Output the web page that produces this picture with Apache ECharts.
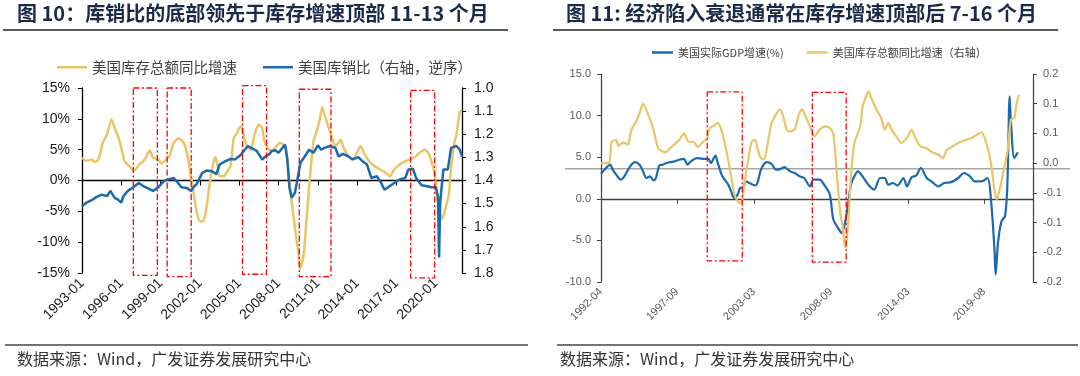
<!DOCTYPE html>
<html>
<head>
<meta charset="utf-8">
<script src="https://cdn.jsdelivr.net/npm/echarts/dist/echarts.min.js"></script>
<style>
html, body { margin: 0; padding: 0; background: #fff; }
#chart { width: 1080px; height: 376px; }
</style>
</head>
<body>
<div id="chart"></div>
<script>
// ---- 图10 数据 ----
const invYoYDates = [
  "1993-01","1993-05","1993-10","1994-01","1994-04","1994-08","1994-12","1995-04","1995-07","1995-10",
  "1996-01","1996-04","1996-09","1997-01","1997-05","1997-09","1997-12","1998-03","1998-06","1998-11",
  "1999-02","1999-06","1999-09","2000-01","2000-05","2000-08","2000-11","2001-02","2001-05","2001-07","2001-10",
  "2002-01","2002-04","2002-07","2002-09","2002-12","2003-03","2003-05","2003-07","2003-11",
  "2004-02","2004-05","2004-08","2004-11","2005-01","2005-03","2005-06","2005-09","2005-12",
  "2006-03","2006-07","2006-10","2006-12","2007-03","2007-07","2007-10","2008-02","2008-05","2008-08","2008-10",
  "2009-01","2009-04","2009-07","2009-09","2009-12","2010-03","2010-06","2010-09","2010-12",
  "2011-03","2011-05","2011-07","2011-10","2012-01","2012-05","2012-08","2012-10","2012-12",
  "2013-03","2013-08","2013-12","2014-04","2014-08","2015-01","2015-05","2015-10","2016-02","2016-07","2016-11",
  "2017-04","2017-09","2018-01","2018-06","2018-10","2019-03","2019-06","2019-09","2019-12",
  "2020-02","2020-05","2020-07","2020-10","2021-01","2021-03","2021-06","2021-08","2021-11","2022-01"
];
const invYoY = [
  3.7, 3.2, 3.4, 3.0, 3.4, 6.1, 7.5, 9.9, 8.5, 7.2,
  5.3, 3.1, 2.2, 1.6, 2.5, 3.1, 3.9, 4.9, 3.7, 3.4,
  2.7, 3.4, 3.9, 6.1, 6.8, 6.6, 5.8, 3.7, 0.4, -1.7, -5.0,
  -6.6, -6.6, -4.4, -1.7, 1.8, 3.8, 2.6, 0.7, 0.7,
  1.5, 2.3, 6.9, 7.7, 8.5, 8.8, 6.6, 5.3, 5.0,
  7.5, 9.1, 8.5, 6.4, 5.3, 4.8, 5.3, 6.1, 5.9, 5.0, 1.5,
  -3.4, -7.7, -11.5, -14.3, -12.0, -5.5, 1.0, 6.4, 8.0,
  10.2, 11.9, 10.7, 9.1, 7.5, 5.6, 6.1, 6.6, 5.6,
  4.5, 3.4, 4.2, 5.6, 4.2, 2.9, 2.3, 1.8, 1.4, 0.7, 1.8,
  2.6, 3.1, 3.4, 3.8, 4.5, 5.0, 4.5, 3.1, 1.0,
  -2.3, -5.5, -6.2, -4.4, -2.3, 2.1, 6.1, 7.5, 11.2, 11.4
];
const isRatioDates = [
  "1993-01","1993-05","1993-10","1994-02","1994-07","1994-12","1995-03","1995-07","1995-10",
  "1996-01","1996-03","1996-07","1996-12","1997-05","1997-09","1998-02","1998-06","1998-11",
  "1999-04","1999-08","2000-01","2000-05","2000-08","2001-01","2001-05","2001-07","2001-10",
  "2002-03","2002-07","2002-12","2003-04","2003-07","2003-12","2004-05","2004-09",
  "2005-02","2005-06","2005-09","2005-12","2006-05","2006-10","2007-01","2007-04","2007-07","2007-10",
  "2008-01","2008-05","2008-07","2008-09","2008-11","2009-01","2009-04","2009-06","2009-09",
  "2010-01","2010-05","2010-09","2011-01","2011-04","2011-07","2011-12","2012-05","2012-08","2012-12",
  "2013-05","2013-09","2014-02","2014-06","2014-10","2015-02","2015-07","2015-11",
  "2016-02","2016-07","2016-11","2017-04","2017-09","2017-12","2018-04","2018-07","2018-12",
  "2019-04","2019-09","2020-01","2020-03","2020-04","2020-05","2020-06","2020-08","2020-12",
  "2021-03","2021-08","2021-11","2022-01"
];
const isRatio = [
  1.512, 1.496, 1.485, 1.472, 1.461, 1.467, 1.445, 1.475, 1.483,
  1.496, 1.467, 1.445, 1.429, 1.411, 1.424, 1.435, 1.445, 1.429,
  1.403, 1.395, 1.389, 1.411, 1.429, 1.432, 1.445, 1.429, 1.416,
  1.368, 1.357, 1.360, 1.373, 1.331, 1.317, 1.307, 1.309,
  1.291, 1.267, 1.251, 1.259, 1.272, 1.309, 1.296, 1.288, 1.272, 1.269,
  1.280, 1.256, 1.245, 1.309, 1.432, 1.475, 1.453, 1.403, 1.323,
  1.296, 1.267, 1.280, 1.248, 1.267, 1.259, 1.251, 1.259, 1.296, 1.285,
  1.296, 1.309, 1.299, 1.317, 1.331, 1.389, 1.381, 1.411,
  1.440, 1.424, 1.411, 1.395, 1.389, 1.352, 1.349, 1.389, 1.421,
  1.424, 1.429, 1.429, 1.470, 1.733, 1.500, 1.445, 1.352, 1.352,
  1.259, 1.251, 1.267, 1.296
];
const leftTicks = ["1993-01","1996-01","1999-01","2002-01","2005-01","2008-01","2011-01","2014-01","2017-01","2020-01"];
const leftBoxStart = ["1996-12","1999-07","2005-04","2009-08","2018-02"];
const leftBoxEnd = ["1998-10","2001-05","2007-02","2012-01","2019-12"];
const leftBoxTop = [15.0, 15.0, 15.4, 14.8, 14.6];
const leftBoxBottom = [-15.4, -15.6, -15.2, -15.6, -15.8];

// ---- 图11 数据 ----
const gdpDates = [
  "1992-04","1992-07","1992-12","1993-02","1993-05","1993-09","1993-12","1994-05","1994-09",
  "1995-01","1995-04","1995-07","1995-10","1996-01","1996-03","1996-06","1996-09","1996-12",
  "1997-03","1997-07","1997-11","1998-03","1998-06","1998-09","1999-02","1999-07","1999-12",
  "2000-02","2000-06","2000-08","2000-12","2001-05","2001-08","2001-10",
  "2002-01","2002-03","2002-06","2002-08","2002-11","2003-04","2003-06","2003-09",
  "2004-02","2004-06","2004-10","2005-02","2005-05","2005-10","2006-02","2006-06","2006-10",
  "2007-03","2007-06","2007-11","2008-04","2008-08","2008-11","2009-03","2009-06","2009-09","2009-12",
  "2010-02","2010-05","2010-08","2010-12","2011-05","2011-10","2012-03","2012-07","2012-10",
  "2013-02","2013-06","2013-11","2014-02","2014-06","2014-10","2015-02","2015-07","2015-11",
  "2016-05","2016-10","2017-04","2017-10","2018-03","2018-08","2018-12","2019-06","2019-11",
  "2020-02","2020-05","2020-06","2020-08","2020-11","2021-02","2021-04","2021-06","2021-07","2021-10","2022-01"
];
const gdpYoY = [
  3.0, 3.5, 4.1, 3.5, 2.9, 2.3, 2.7, 3.9, 4.4,
  4.1, 3.3, 2.5, 2.7, 2.2, 2.5, 4.0, 4.1, 4.3,
  4.4, 4.5, 4.7, 4.8, 4.1, 4.5, 4.9, 4.8, 4.8,
  4.3, 5.2, 4.3, 2.7, 1.7, 0.7, 0.1,
  0.5, 1.3, 1.4, 2.1, 1.9, 1.6, 1.9, 3.5,
  4.4, 4.2, 3.5, 3.6, 3.8, 3.3, 3.1, 2.7, 2.5,
  1.5, 2.3, 2.3, 1.5, 0.5, -2.5, -3.5, -4.1, -2.9, -0.3,
  1.7, 2.7, 3.3, 2.7, 1.7, 1.1, 2.5, 2.5, 1.7,
  1.9, 1.6, 2.5, 1.5, 2.6, 2.8, 3.7, 2.5, 2.1,
  1.5, 1.9, 2.0, 2.5, 3.1, 2.7, 2.1, 2.1, 2.5,
  -0.1, -6.1, -9.1, -5.3, -2.7, -2.1, 1.5, 12.3, 9.5, 4.9, 5.6
];
const invRightDates = [
  "1992-04","1992-11","1993-01","1993-05","1993-07","1993-11","1994-03","1994-06","1994-10",
  "1995-01","1995-04","1995-08","1996-01","1996-05","1996-11","1997-03","1997-07","1997-11",
  "1998-03","1998-07","1998-11","1999-03","1999-07","1999-11","2000-01","2000-05","2000-08","2000-11",
  "2001-02","2001-05","2001-08","2001-11","2002-03","2002-05","2002-07","2002-10",
  "2003-01","2003-04","2003-06","2003-09","2003-12","2004-03","2004-06","2004-09",
  "2005-01","2005-04","2005-07","2005-10","2006-02","2006-05","2006-08","2006-11",
  "2007-03","2007-07","2007-11","2008-04","2008-08","2008-11","2009-02","2009-05","2009-07","2009-09","2009-12",
  "2010-02","2010-05","2010-10","2010-12","2011-03","2011-05","2011-08","2011-12",
  "2012-04","2012-07","2012-10","2013-01","2013-05","2013-09","2014-02","2014-06","2014-10",
  "2015-02","2015-07","2015-11","2016-05","2016-09","2016-12","2017-04","2017-10",
  "2018-03","2018-09","2019-03","2019-06","2019-10","2020-02","2020-05","2020-07","2020-10",
  "2021-01","2021-04","2021-07","2021-10","2021-12","2022-02"
];
const invRight = [
  0.000, 0.000, 0.036, 0.039, 0.029, 0.035, 0.031, 0.056, 0.070,
  0.084, 0.100, 0.084, 0.056, 0.025, 0.018, 0.025, 0.032, 0.039,
  0.050, 0.036, 0.036, 0.027, 0.035, 0.042, 0.059, 0.063, 0.068, 0.056,
  0.034, 0.005, -0.028, -0.057, -0.068, -0.062, -0.034, 0.005,
  0.036, 0.039, 0.025, 0.008, 0.007, 0.036, 0.067, 0.079,
  0.091, 0.079, 0.056, 0.053, 0.057, 0.079, 0.091, 0.080,
  0.062, 0.045, 0.056, 0.062, 0.059, 0.050, -0.017, -0.085, -0.107, -0.142, -0.096,
  -0.023, 0.034, 0.062, 0.095, 0.112, 0.121, 0.107, 0.090,
  0.076, 0.056, 0.068, 0.056, 0.045, 0.034, 0.042, 0.056, 0.039,
  0.028, 0.025, 0.019, 0.014, 0.008, 0.022, 0.027, 0.034,
  0.038, 0.042, 0.049, 0.052, 0.034, 0.000, -0.045, -0.061, -0.040,
  -0.011, 0.017, 0.073, 0.076, 0.101, 0.115
];
const rightTicks = ["1992-04","1997-09","2003-03","2008-09","2014-03","2019-08"];
const rightBoxStart = ["1999-11","2007-05"];
const rightBoxEnd = ["2002-05","2009-10"];
const rightBoxTop = [12.85, 12.8];
const rightBoxBottom = [-7.45, -7.6];
const gdpRefLevel = 3.6;

const YELLOW = "#E8C566";
const BLUE = "#1B6AAE";
const RED = "#FF0000";
const fontLat = '"Liberation Sans", Arial, sans-serif';
const fontCjk = '"Noto Sans CJK SC", "Liberation Sans", sans-serif';

// 日期 -> 月序号 (自 1990-01 起), 用数值轴画时间
const toM = (s) => {
  const p = s.split("-").map(Number);
  return (p[0] - 1990) * 12 + (p[1] - 1);
};
const pairs = (dates, vals) => dates.map((d, i) => [toM(d), vals[i]]);
const ymLabel = (v) => {
  const m = Math.round(v);
  return (1990 + Math.floor(m / 12)) + "-" + String((m % 12) + 1).padStart(2, "0");
};
// 一位小数, 四舍五入 (同 Excel)
const oneDec = (v) => {
  const s = v < 0 ? -1 : 1;
  return (s * Math.round(Math.abs(v) * 10 + 1e-6) / 10).toFixed(1);
};

const boxSeries = (starts, ends, tops, bottoms, xi, yi) =>
  starts.map((s, i) => ({
    type: "line",
    xAxisIndex: xi,
    yAxisIndex: yi,
    symbol: "none",
    silent: true,
    clip: false,
    z: 5,
    lineStyle: { color: RED, width: 1.3, type: [6, 2.5, 2, 2.5] },
    data: [
      [toM(s), tops[i]], [toM(ends[i]), tops[i]], [toM(ends[i]), bottoms[i]],
      [toM(s), bottoms[i]], [toM(s), tops[i]]
    ]
  }));

const zeroAxis = (grid, min, max, ticks, onZeroIdx, color) => ({
  type: "value",
  gridIndex: grid,
  min: toM(min),
  max: toM(max),
  axisLine: { onZero: true, onZeroAxisIndex: onZeroIdx, lineStyle: { color: color, width: 1.3 } },
  axisTick: { show: true, customValues: ticks.map(toM), length: 5, lineStyle: { color: color } },
  axisLabel: { show: false },
  splitLine: { show: false }
});
const labelAxis = (grid, min, max, ticks, size, color) => ({
  type: "value",
  gridIndex: grid,
  position: "bottom",
  min: toM(min),
  max: toM(max),
  axisLine: { show: false, onZero: false },
  axisTick: { show: false },
  axisLabel: {
    customValues: ticks.map(toM),
    formatter: ymLabel,
    rotate: 45,
    margin: 8,
    fontSize: size,
    color: color,
    fontFamily: fontLat,
    showMinLabel: true,
    showMaxLabel: true
  },
  splitLine: { show: false }
});
const valAxis = (grid, pos, min, max, interval, fmt, opts) => Object.assign({
  type: "value",
  gridIndex: grid,
  position: pos,
  min: min,
  max: max,
  interval: interval,
  axisLine: { show: true, onZero: false, lineStyle: { color: "#000", width: 1.3 } },
  axisTick: { show: true, length: 4, lineStyle: { color: "#000" } },
  axisLabel: { formatter: fmt, fontSize: 14, color: "#1a1a1a", fontFamily: fontLat, margin: 12 },
  splitLine: { show: false }
}, opts || {});

const chart = echarts.init(document.getElementById("chart"));

const option = {
  animation: false,
  backgroundColor: "#fff",
  title: [
    {
      text: "图 10：库销比的底部领先于库存增速顶部 11-13 个月",
      left: 17, top: 3, padding: 0,
      textStyle: { fontSize: 20, fontWeight: "bold", color: "#1B2A48", fontFamily: fontCjk }
    },
    {
      text: "图 11: 经济陷入衰退通常在库存增速顶部后 7-16 个月",
      left: 566, top: 3, padding: 0,
      textStyle: { fontSize: 20, fontWeight: "bold", color: "#1B2A48", fontFamily: fontCjk }
    }
  ],
  legend: [
    {
      data: ["美国库存总额同比增速", "美国库销比（右轴，逆序）"],
      left: 57, top: 60, padding: 0,
      icon: "rect", itemWidth: 30, itemHeight: 2.5, itemGap: 26,
      textStyle: { fontSize: 14.5, color: "#404040", fontFamily: fontCjk }
    },
    {
      data: ["美国实际GDP增速(%)", "美国库存总额同比增速（右轴）"],
      left: 652, top: 47, padding: 0,
      icon: "rect", itemWidth: 21, itemHeight: 2.5, itemGap: 23,
      textStyle: { fontSize: 11, color: "#404040", fontFamily: fontCjk }
    }
  ],
  grid: [
    { left: 82, top: 88, width: 380, height: 185, outerBoundsMode: "none" },
    { left: 601, top: 74, width: 432, height: 208, outerBoundsMode: "none" }
  ],
  xAxis: [
    zeroAxis(0, "1993-01", "2022-01", leftTicks, 0, "#000"),
    labelAxis(0, "1993-01", "2022-01", leftTicks, 14, "#1a1a1a"),
    zeroAxis(1, "1992-04", "2023-02", rightTicks, 2, "#404040"),
    labelAxis(1, "1992-04", "2023-02", rightTicks, 11, "#595959")
  ],
  yAxis: [
    valAxis(0, "left", -15, 15, 5, "{value}%"),
    valAxis(0, "right", 1.0, 1.8, 0.1, (v) => v.toFixed(1), { inverse: true }),
    valAxis(1, "left", -10, 15, 5, (v) => v.toFixed(1), {
      axisLine: { show: true, onZero: false, lineStyle: { color: "#404040", width: 1.2 } },
      axisTick: { show: true, length: 4, lineStyle: { color: "#404040" } },
      axisLabel: { formatter: (v) => v.toFixed(1), fontSize: 11, color: "#595959", fontFamily: fontLat, margin: 10 }
    }),
    valAxis(1, "right", -0.2, 0.15, 0.05, oneDec, {
      axisLine: { show: true, onZero: false, lineStyle: { color: "#404040", width: 1.2 } },
      axisTick: { show: true, length: 4, lineStyle: { color: "#404040" } },
      axisLabel: { formatter: oneDec, fontSize: 11, color: "#595959", fontFamily: fontLat, margin: 10 }
    })
  ],
  series: [
    {
      name: "美国库存总额同比增速",
      type: "line", xAxisIndex: 0, yAxisIndex: 0,
      symbol: "none", smooth: 0.2,
      itemStyle: { color: YELLOW },
      lineStyle: { color: YELLOW, width: 2.5 },
      data: pairs(invYoYDates, invYoY)
    },
    {
      name: "美国库销比（右轴，逆序）",
      type: "line", xAxisIndex: 0, yAxisIndex: 1,
      symbol: "none",
      itemStyle: { color: BLUE },
      lineStyle: { color: BLUE, width: 2.5 },
      data: pairs(isRatioDates, isRatio)
    },
    {
      name: "美国实际GDP增速(%)",
      type: "line", xAxisIndex: 2, yAxisIndex: 2,
      symbol: "none", smooth: 0.3,
      itemStyle: { color: BLUE },
      lineStyle: { color: BLUE, width: 2.2 },
      data: pairs(gdpDates, gdpYoY)
    },
    {
      name: "美国库存总额同比增速（右轴）",
      type: "line", xAxisIndex: 2, yAxisIndex: 3,
      symbol: "none", smooth: 0.2,
      itemStyle: { color: YELLOW },
      lineStyle: { color: YELLOW, width: 2.2 },
      data: pairs(invRightDates, invRight)
    }
  ]
    .concat(boxSeries(leftBoxStart, leftBoxEnd, leftBoxTop, leftBoxBottom, 0, 0))
    .concat(boxSeries(rightBoxStart, rightBoxEnd, rightBoxTop, rightBoxBottom, 2, 2))
};

chart.setOption(option);

// 标题下划线, 底部来源, 图11灰色参考线
const refY = chart.convertToPixel({ xAxisIndex: 2, yAxisIndex: 2 }, [toM("2000-01"), gdpRefLevel])[1];
const line = (x1, y1, x2, y2, color, w) => ({
  type: "line", silent: true,
  shape: { x1: x1, y1: y1, x2: x2, y2: y2 },
  style: { stroke: color, lineWidth: w }
});
const source = (x) => ({
  type: "text", left: x, top: 351, silent: true,
  style: { text: "数据来源：Wind，广发证券发展研究中心", fontSize: 16, fill: "#333", fontFamily: fontCjk }
});
chart.setOption({
  graphic: [
    line(3, 30, 508, 30, "#222", 1.5),
    line(553, 30, 1058, 30, "#222", 1.5),
    line(5, 345, 528, 345, "#444", 1.5),
    line(557, 345, 1078, 345, "#444", 1.5),
    line(565, refY, 1070, refY, "#A6A6A6", 1.5),
    source(17),
    source(560)
  ]
});

window.addEventListener("resize", () => chart.resize());
</script>
</body>
</html>
